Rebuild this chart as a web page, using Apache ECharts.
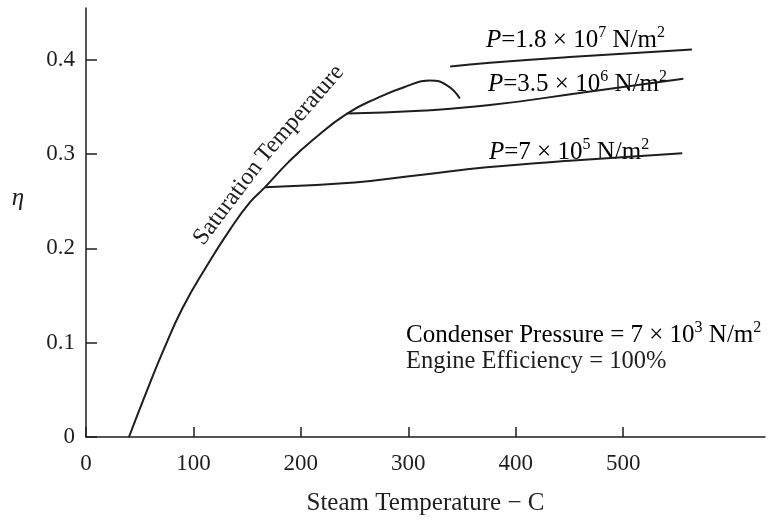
<!DOCTYPE html>
<html>
<head>
<meta charset="utf-8">
<script src="https://cdn.jsdelivr.net/npm/echarts@6/dist/echarts.min.js"></script>
<style>html,body{margin:0;padding:0;background:#fff;}#c{width:768px;height:521px;}</style>
</head>
<body>
<div id="c"></div>
<script>
// ---- data ----
const xTicks = [0, 100, 200, 300, 400, 500];
const yTicks = [0, 0.1, 0.2, 0.3, 0.4];

const satTemp = [40, 56, 71.7, 90, 112.7, 134, 152.7, 166.7, 188, 211, 243, 272, 296, 320, 336, 348];
const satEff  = [0, 0.047, 0.091, 0.137, 0.182, 0.220, 0.249, 0.265, 0.291, 0.315, 0.343, 0.360, 0.371, 0.378, 0.373, 0.359];

const p7e5Temp = [166.7, 250, 311, 373, 450, 555];
const p7e5Eff  = [0.265, 0.270, 0.278, 0.286, 0.293, 0.301];

const p35e6Temp = [243, 311, 376, 466, 556];
const p35e6Eff  = [0.343, 0.346, 0.352, 0.366, 0.380];

const p18e7Temp = [339, 376, 450, 564];
const p18e7Eff  = [0.393, 0.397, 0.403, 0.411];

const xTitle = 'Steam Temperature \u2212 C';
const yTitle = '\u03b7';
const satWords = ['Saturation', 'Temperature'];

function pairs(xs, ys) { return xs.map((x, i) => [x, ys[i]]); }

const FONT = '"Liberation Serif", "DejaVu Serif", serif';
const INK = '#1e1e1e';

const chart = echarts.init(document.getElementById('c'), null, { renderer: 'canvas' });

function lineSeries(data) {
  return {
    type: 'line', data: data, smooth: 0.5, showSymbol: false, silent: true,
    lineStyle: { color: INK, width: 2 }
  };
}

const supRich = {
  i: { fontFamily: FONT, fontSize: 25, fontStyle: 'italic', color: INK },
  n: { fontFamily: FONT, fontSize: 25, color: INK },
  s: { fontFamily: FONT, fontSize: 16, color: INK, verticalAlign: 'top' }
};

function richText(x, y, str) {
  return {
    type: 'text', x: x, y: y, silent: true,
    style: { text: str, rich: supRich, textAlign: 'left', textVerticalAlign: 'middle', lineHeight: 30 }
  };
}

function rotText(x, y, deg, str) {
  return {
    type: 'text', x: x, y: y, rotation: deg * Math.PI / 180, silent: true,
    style: { text: str, fontFamily: FONT, fontSize: 24, fill: INK, textAlign: 'center', textVerticalAlign: 'middle' }
  };
}

chart.setOption({
  animation: false,
  backgroundColor: '#fff',
  grid: { left: 86, right: 3, top: 8, bottom: 77, containLabel: false },
  xAxis: {
    type: 'value', min: 0, max: 632, interval: 100,
    name: xTitle, nameLocation: 'middle', nameGap: 54,
    nameTextStyle: { fontFamily: FONT, fontSize: 25, color: INK },
    axisLine: { lineStyle: { color: INK, width: 1.5 } },
    axisTick: { inside: true, length: 10, lineStyle: { color: INK, width: 1.5 }, customValues: xTicks },
    axisLabel: { customValues: xTicks, margin: 15, fontFamily: FONT, fontSize: 23, color: INK },
    splitLine: { show: false }
  },
  yAxis: {
    type: 'value', min: 0, max: 0.455, interval: 0.1,
    axisLine: { show: true, lineStyle: { color: INK, width: 1.5 } },
    axisTick: { show: true, inside: true, length: 11, lineStyle: { color: INK, width: 1.5 }, customValues: yTicks },
    axisLabel: { customValues: yTicks, margin: 11, fontFamily: FONT, fontSize: 23, color: INK },
    splitLine: { show: false }
  },
  series: [
    lineSeries(pairs(satTemp, satEff)),
    lineSeries(pairs(p7e5Temp, p7e5Eff)),
    lineSeries(pairs(p35e6Temp, p35e6Eff)),
    lineSeries(pairs(p18e7Temp, p18e7Eff))
  ],
  graphic: [
    { type: 'text', x: 18, y: 198, silent: true,
      style: { text: yTitle, fontFamily: FONT, fontSize: 25, fontStyle: 'italic', fill: INK, textAlign: 'center', textVerticalAlign: 'middle' } },
    rotText(228, 203, 53, satWords[0]),
    rotText(300, 114, 49, satWords[1]),
    richText(486, 40, '{i|P}{n|=1.8 \u00d7 10}{s|7}{n| N/m}{s|2}'),
    richText(488, 84, '{i|P}{n|=3.5 \u00d7 10}{s|6}{n| N/m}{s|2}'),
    richText(489, 152, '{i|P}{n|=7 \u00d7 10}{s|5}{n| N/m}{s|2}'),
    richText(406, 335, '{n|Condenser Pressure = 7 \u00d7 10}{s|3}{n| N/m}{s|2}'),
    { type: 'text', x: 406, y: 362, silent: true,
      style: { text: 'Engine Efficiency = 100%', fontFamily: FONT, fontSize: 24.5, fill: INK, textAlign: 'left', textVerticalAlign: 'middle' } }
  ]
});
</script>
</body>
</html>
